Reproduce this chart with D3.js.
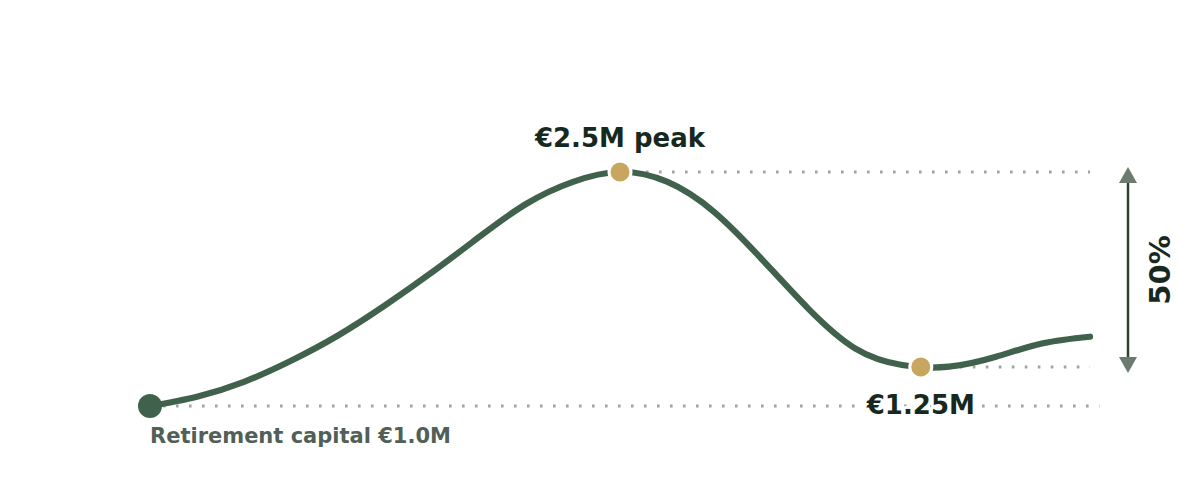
<!DOCTYPE html>
<html>
<head>
<meta charset="utf-8">
<script src="https://cdn.jsdelivr.net/npm/d3@7"></script>
<style>
  html, body { margin: 0; padding: 0; background: #fff; }
  svg { display: block; font-family: "DejaVu Sans", sans-serif; }
</style>
</head>
<body>
<svg id="chart" width="1200" height="500"></svg>
<script>
// years since retirement and capital in millions of euro
const years = [0, 1, 2, 3, 4, 5, 6, 7, 8, 9, 10, 11, 12, 13, 14, 15, 16, 17, 18, 19, 20];
const capital = [1.000, 1.060, 1.155, 1.290, 1.452, 1.645, 1.857, 2.083, 2.295, 2.437, 2.500,
                 2.438, 2.245, 1.947, 1.626, 1.370, 1.263, 1.252, 1.316, 1.402, 1.444];
// highlighted points: peak and trough
const markerYears = [10, 16.4];
const markerValues = [2.5, 1.25];
const startLabel = "Retirement capital €1.0M";
const peakLabel = "€2.5M peak";
const troughLabel = "€1.25M";
const dropLabel = "50%";

const green = "#40614c";
const gold = "#c9a660";
const ink = "#17291e";

const svg = d3.select("#chart");

const x = d3.scaleLinear().domain([0, 20]).range([150, 1090]);
const y = d3.scaleLinear().domain([1.0, 2.5]).range([406, 172]);

const points = years.map((yr, i) => ({yr, v: capital[i]}));
const markers = markerYears.map((yr, i) => ({yr, v: markerValues[i]}));
const peak = markers[0];
const trough = markers[1];

// reference dotted lines
const refs = [
    {x0: years[0], x1: 20.2, v: capital[0]},
    {x0: peak.yr, x1: 20, v: peak.v},
    {x0: trough.yr, x1: 20, v: trough.v}
];
svg.append("g")
    .selectAll("line")
    .data(refs)
    .enter()
    .append("line")
    .attr("x1", d => x(d.x0))
    .attr("x2", d => x(d.x1))
    .attr("y1", d => y(d.v))
    .attr("y2", d => y(d.v))
    .attr("stroke", "#a3a3a3")
    .attr("stroke-width", 3)
    .attr("stroke-dasharray", "2.6,10.4");

// the capital curve
const line = d3.line()
    .x(d => x(d.yr))
    .y(d => y(d.v))
    .curve(d3.curveNatural);

svg.append("path")
    .datum(points)
    .attr("fill", "none")
    .attr("stroke", green)
    .attr("stroke-width", 6.2)
    .attr("stroke-linecap", "round")
    .attr("stroke-linejoin", "round")
    .attr("d", line);

// start marker
svg.append("circle")
    .attr("cx", x(years[0]))
    .attr("cy", y(capital[0]))
    .attr("r", 12)
    .attr("fill", green);

// peak + trough markers
svg.append("g")
    .selectAll("circle")
    .data(markers)
    .enter()
    .append("circle")
    .attr("cx", d => x(d.yr))
    .attr("cy", d => y(d.v))
    .attr("r", 11)
    .attr("fill", gold)
    .attr("stroke", "#fff")
    .attr("stroke-width", 3);

// labels
svg.append("text")
    .attr("x", x(years[0]))
    .attr("y", y(capital[0]) + 37)
    .attr("font-size", 21)
    .attr("font-weight", "bold")
    .attr("fill", "#525f57")
    .text(startLabel);

svg.append("text")
    .attr("x", x(peak.yr))
    .attr("y", y(peak.v) - 25)
    .attr("text-anchor", "middle")
    .attr("font-size", 26)
    .attr("font-weight", "bold")
    .attr("fill", ink)
    .text(peakLabel);

svg.append("text")
    .attr("x", x(trough.yr))
    .attr("y", y(trough.v) + 47)
    .attr("text-anchor", "middle")
    .attr("font-size", 26)
    .attr("font-weight", "bold")
    .attr("fill", ink)
    .attr("stroke", "#fff")
    .attr("stroke-width", 6)
    .attr("paint-order", "stroke")
    .attr("stroke-linejoin", "round")
    .text(troughLabel);

// drawdown arrow
const ax = 1128;
const yTop = y(peak.v) - 5;
const yBot = y(trough.v) + 6;
const head = 16;
const half = 9;

svg.append("line")
    .attr("x1", ax).attr("x2", ax)
    .attr("y1", yTop + head - 2)
    .attr("y2", yBot - head + 2)
    .attr("stroke", "#2c4334")
    .attr("stroke-width", 2.5);

svg.append("path")
    .attr("d", `M${ax},${yTop}L${ax + half},${yTop + head}L${ax - half},${yTop + head}Z`)
    .attr("fill", "#6b7b70");
svg.append("path")
    .attr("d", `M${ax},${yBot}L${ax + half},${yBot - head}L${ax - half},${yBot - head}Z`)
    .attr("fill", "#6b7b70");

svg.append("text")
    .attr("transform", `translate(${ax + 42},${(yTop + yBot) / 2}) rotate(-90)`)
    .attr("text-anchor", "middle")
    .attr("font-size", 29)
    .attr("font-weight", "bold")
    .attr("fill", ink)
    .text(dropLabel);
</script>
</body>
</html>
